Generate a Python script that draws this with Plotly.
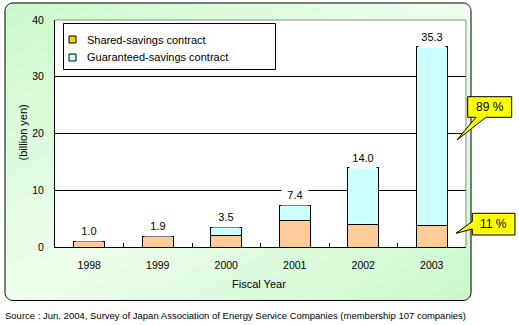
import math
import plotly.graph_objects as go

# ---- data -------------------------------------------------------------
years = ["1998", "1999", "2000", "2001", "2002", "2003"]
shared = [1.0, 1.9, 2.1, 4.7, 3.9, 3.8]          # Shared-savings contract
guaranteed = [0.0, 0.0, 1.4, 2.7, 10.1, 31.5]    # Guaranteed-savings contract
y_ticks = [0, 10, 20, 30, 40]

totals = [round(s + g, 1) for s, g in zip(shared, guaranteed)]
pct_guaranteed = round(guaranteed[-1] / totals[-1] * 100)
pct_shared = 100 - pct_guaranteed

FONT = "Liberation Sans, Arial, sans-serif"
W, H = 519, 325
L, R, T, B = 55, 466, 20, 247          # plot area in pixels


def fx(x):
    return (x - L) / (R - L)


def fy(y):
    return (B - y) / (B - T)


def path_of(points, close=True):
    s = "M " + " L ".join(f"{fx(x):.5f},{fy(y):.5f}" for x, y in points)
    return s + (" Z" if close else "")


def rounded_rect(x0, y0, x1, y1, r, n=10):
    pts = []
    corners = [(x1 - r, y0 + r, -90, 0), (x1 - r, y1 - r, 0, 90),
               (x0 + r, y1 - r, 90, 180), (x0 + r, y0 + r, 180, 270)]
    for cx, cy, a0, a1 in corners:
        for i in range(n + 1):
            a = math.radians(a0 + (a1 - a0) * i / n)
            pts.append((cx + r * math.cos(a), cy + r * math.sin(a)))
    return pts


def clip(poly, a, b, c, keep_ge):
    out = []
    n = len(poly)

    def val(p):
        v = a * p[0] + b * p[1] - c
        return v if keep_ge else -v

    for i in range(n):
        p, q = poly[i], poly[(i + 1) % n]
        vp, vq = val(p), val(q)
        if vp >= 0:
            out.append(p)
        if (vp >= 0) != (vq >= 0):
            t = vp / (vp - vq)
            out.append((p[0] + t * (q[0] - p[0]), p[1] + t * (q[1] - p[1])))
    return out


shapes = []

# ---- panel background: rounded box with a diagonal green gradient ----
bx0, by0, bx1, by1 = 5, 3, 471, 300.5
panel = rounded_rect(bx0, by0, bx1, by1, 8)
ka, kb = 1 / (bx1 - bx0), 1 / (by1 - by0)
green = (202, 248, 202)
light = (238, 254, 238)
N = 40
for k in range(N):
    s0 = 2 * k / N
    s1 = 2 * (k + 1) / N
    c0 = s0 + ka * bx0 + kb * by0
    c1 = s1 + ka * bx0 + kb * by0
    poly = clip(panel, ka, kb, c0, True)
    poly = clip(poly, ka, kb, c1, False)
    if len(poly) < 3:
        continue
    t = 1 - abs((s0 + s1) / 2 - 1)
    col = tuple(round(g + (l - g) * t) for g, l in zip(green, light))
    rgb = f"rgb{col}"
    shapes.append(dict(type="path", xref="paper", yref="paper", layer="below",
                       path=path_of(poly), fillcolor=rgb,
                       line=dict(color=rgb, width=1)))
shapes.append(dict(type="path", xref="paper", yref="paper", layer="below",
                   path=path_of(panel), line=dict(color="black", width=1)))

# white plotting area
shapes.append(dict(type="rect", xref="paper", yref="paper", layer="below",
                   x0=0, x1=1, y0=0, y1=1, fillcolor="white",
                   line=dict(width=0)))
# grey frame on top and right of the plotting area
shapes.append(dict(type="path", xref="paper", yref="paper", layer="above",
                   path=path_of([(L, T), (R, T), (R, B)], close=False),
                   line=dict(color="#8c8c8c", width=1)))

# ---- legend box ----
shapes.append(dict(type="rect", xref="paper", yref="paper", layer="above",
                   x0=fx(63.5), x1=fx(275.5), y0=fy(69.5), y1=fy(23.5),
                   fillcolor="white", line=dict(color="black", width=1)))
legend_items = [("Shared-savings contract", "#FFCC00", 39.5),
                ("Guaranteed-savings contract", "#CCFFFF", 57.5)]
annotations = []
for label, col, yc in legend_items:
    shapes.append(dict(type="rect", xref="paper", yref="paper", layer="above",
                       x0=fx(69), x1=fx(76), y0=fy(yc + 3.5), y1=fy(yc - 3.5),
                       fillcolor=col, line=dict(color="black", width=1)))
    annotations.append(dict(xref="paper", yref="paper", x=fx(85), y=fy(yc),
                            xanchor="left", yanchor="middle", showarrow=False,
                            text=label, font=dict(family=FONT, size=11, color="black")))

# ---- callouts with the 2003 shares ----
callouts = [
    (f"{pct_guaranteed} %",
     [(467.7, 96.7), (511.7, 96.7), (511.7, 117.3), (486, 117.3), (457, 140),
      (476, 117.3), (467.7, 117.3)], (489.7, 107.3)),
    (f"{pct_shared} %",
     [(472.3, 213.3), (515, 213.3), (515, 235), (472.3, 235), (472.3, 229),
      (456, 233.3), (472.3, 221.5)], (493.6, 224.3)),
]
for text, pts, (cx, cy) in callouts:
    shapes.append(dict(type="path", xref="paper", yref="paper", layer="above",
                       path=path_of(pts), fillcolor="#FFFF00",
                       line=dict(color="black", width=1)))
    annotations.append(dict(xref="paper", yref="paper", x=fx(cx), y=fy(cy),
                            xanchor="center", yanchor="middle", showarrow=False,
                            text=text, font=dict(family=FONT, size=12, color="black")))

# ---- total labels above bars (x given as category index) ----
for i, tot in enumerate(totals):
    annotations.append(dict(x=i, y=tot, xref="x", yref="y", yanchor="bottom",
                            yshift=-1, showarrow=False, text=f"{tot:.1f}",
                            width=24, height=19, bgcolor="white",
                            font=dict(family=FONT, size=11, color="black")))

# ---- axis titles and source note ----
annotations.append(dict(xref="paper", yref="paper", x=fx(22.5), y=fy(133),
                        xanchor="center", yanchor="middle",
                        textangle=-90, showarrow=False, text="(billion yen)",
                        font=dict(family=FONT, size=11, color="black")))
annotations.append(dict(xref="paper", yref="paper", x=fx(259), y=fy(284),
                        xanchor="center", yanchor="middle",
                        showarrow=False, text="Fiscal Year",
                        font=dict(family=FONT, size=11, color="black")))
annotations.append(dict(xref="paper", yref="paper", x=fx(3), y=fy(315),
                        xanchor="left", yanchor="middle", showarrow=False,
                        text="Source : Jun. 2004, Survey of Japan Association of Energy "
                             "Service Companies (membership 107 companies)",
                        font=dict(family=FONT, size=9.5, color="black")))

fig = go.Figure()
fig.add_trace(go.Bar(x=years, y=shared, name="Shared-savings contract",
                     marker=dict(color="#FFCC99", line=dict(color="black", width=1))))
fig.add_trace(go.Bar(x=years, y=guaranteed, name="Guaranteed-savings contract",
                     marker=dict(color="#CCFFFF", line=dict(color="black", width=1))))

fig.update_layout(
    width=W, height=H,
    margin=dict(l=L, r=W - R, t=T, b=H - B, pad=0),
    barmode="stack", bargap=0.55,
    showlegend=False,
    paper_bgcolor="white", plot_bgcolor="rgba(0,0,0,0)",
    font=dict(family=FONT, size=11, color="black"),
    shapes=shapes, annotations=annotations,
    xaxis=dict(type="category", range=[-0.5, len(years) - 0.5], autorange=False,
               showline=True, linecolor="black", linewidth=1,
               ticks="inside", ticklen=4, tickcolor="black", tickson="boundaries",
               showgrid=False, tickfont=dict(size=10.5), ticklabelstandoff=8,
               fixedrange=True),
    yaxis=dict(range=[0, 40], tickvals=y_ticks, showgrid=True, gridcolor="black",
               gridwidth=1, showline=True, linecolor="black", linewidth=1,
               zeroline=False, ticks="", tickfont=dict(size=10.5),
               ticklabelstandoff=8, fixedrange=True),
)

fig.write_html("out.html")
